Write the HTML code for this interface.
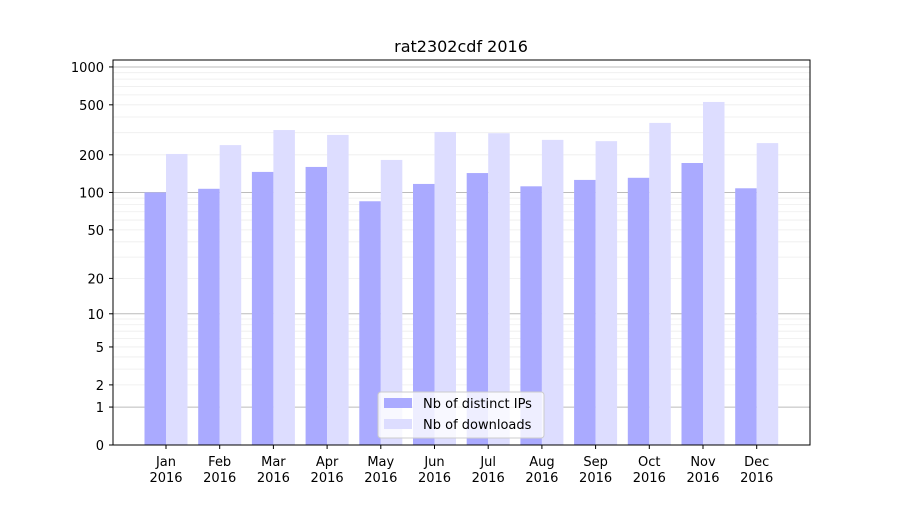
<!DOCTYPE html>
<html><head><meta charset="utf-8"><style>
body{margin:0;background:#fff;font-family:"Liberation Sans","DejaVu Sans",sans-serif}
</style></head><body>
<svg id="chart" width="900" height="500" xmlns="http://www.w3.org/2000/svg" font-family="DejaVu Sans, Liberation Sans, sans-serif">
<rect width="900" height="500" fill="#fff"/>
<text x="461" y="52" font-size="16" text-anchor="middle">rat2302cdf 2016</text>
<g id="grid"></g><g id="bars"></g><g id="axes"></g>
<rect x="113" y="60" width="697" height="385" fill="none" stroke="#000" stroke-width="1"/>
<g>
<rect x="378" y="392" width="166" height="46" rx="3" fill="#fff" fill-opacity="0.8" stroke="#ccc"/>
<rect x="384" y="398" width="28" height="10" fill="#aaaaff"/>
<text x="423" y="408" font-size="13">Nb of distinct IPs</text>
<rect x="384" y="419" width="28" height="10" fill="#ddddff"/>
<text x="423" y="429" font-size="13">Nb of downloads</text>
</g>
</svg>
<script>
const categories=["Jan","Feb","Mar","Apr","May","Jun","Jul","Aug","Sep","Oct","Nov","Dec"];
const ips=[100,107,146,160,85,117,143,112,126,131,172,108];
const downloads=[203,239,315,288,182,304,297,263,257,359,527,248];
const yTicks=[0,1,2,5,10,20,50,100,200,500,1000];
const NS="http://www.w3.org/2000/svg";
const y0=445,k=126;
function y(v){return y0-k*Math.log10(1+v);}
function xc(i){return 166+i*53.7;}
function el(t,a,p){const e=document.createElementNS(NS,t);for(const n in a)e.setAttribute(n,a[n]);p.appendChild(e);return e;}
const grid=document.getElementById('grid'),bars=document.getElementById('bars'),axes=document.getElementById('axes');
[1,10,100,1000].forEach(d=>{for(let m=1;m<10;m++){const v=d*m;if(v>1100)continue;const g=el('line',{x1:113,x2:810,y1:y(v),y2:y(v),stroke:m==1?'#bbb':'#eee','stroke-width':m==1?1:0.8},grid);

}});
const bw=21.5;
categories.forEach((c,i)=>{
 const a=el('rect',{x:xc(i)-bw,y:y(ips[i]),width:bw,height:y0-y(ips[i]),fill:'#aaaaff'},bars);
 
 
 const b=el('rect',{x:xc(i),y:y(downloads[i]),width:bw,height:y0-y(downloads[i]),fill:'#ddddff'},bars);
 
 
 el('line',{x1:xc(i),x2:xc(i),y1:445,y2:449,stroke:'#000'},axes);
 const t=el('text',{x:xc(i),y:466,'font-size':13,'text-anchor':'middle'},axes);
 
 
 t.textContent=c;
 const t2=el('text',{x:xc(i),y:482,'font-size':13,'text-anchor':'middle'},axes);
 
 
 t2.textContent='2016';
});
yTicks.forEach(v=>{
 el('line',{x1:109,x2:113,y1:y(v),y2:y(v),stroke:'#000'},axes);
 const t=el('text',{x:104,y:y(v)+5,'font-size':13,'text-anchor':'end'},axes);
 
 
 t.textContent=v;
});
</script>
</body></html>
